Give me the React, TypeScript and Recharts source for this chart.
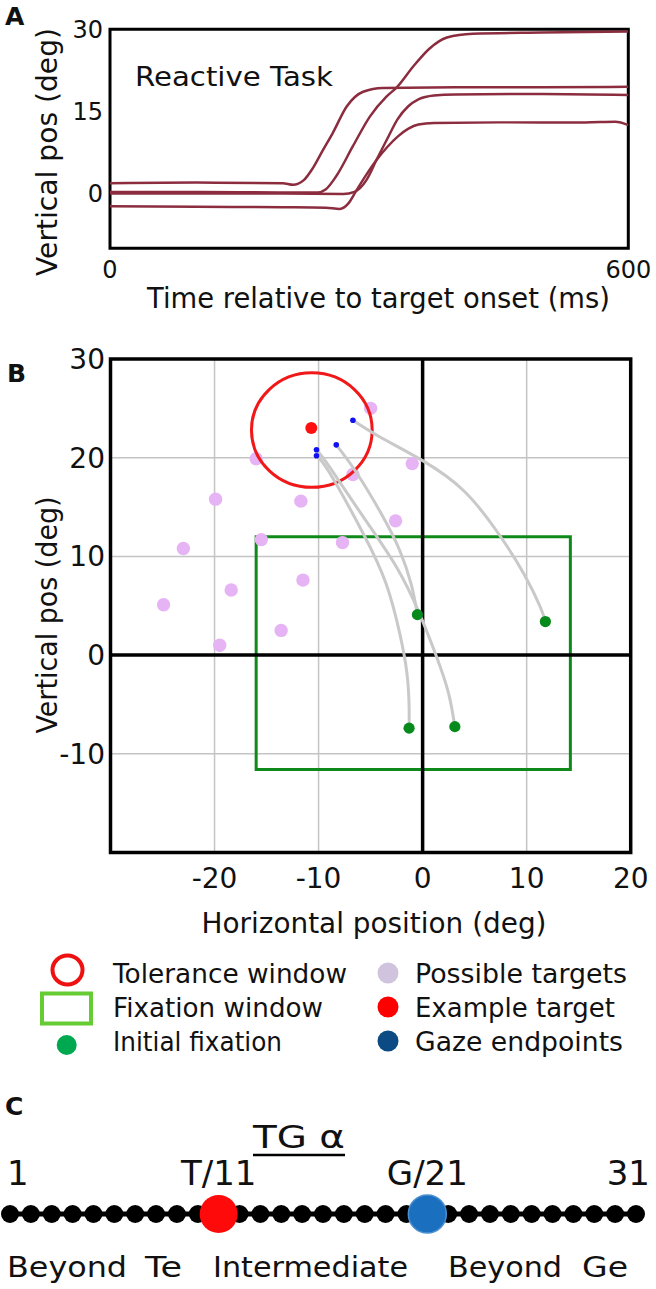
import {
  CartesianGrid,
  ComposedChart,
  Line,
  ReferenceArea,
  ReferenceDot,
  ReferenceLine,
  Scatter,
  XAxis,
  YAxis,
} from 'recharts';

const FONT = '"DejaVu Sans", sans-serif';
const INK = '#111';

// ---- panel A: vertical eye position vs time (ms, deg) ----
const traceA: [number, number][] = [
  [0, 1.9], [100, 2.0], [200, 1.9], [212, 1.6], [224, 2.4], [235, 4.7], [246, 7.8],
  [258, 11.1], [274, 15.9], [293, 18.6], [316, 19.3], [400, 19.4], [500, 19.4], [600, 19.5],
];
const traceB: [number, number][] = [
  [0, 0.3], [100, 0.3], [200, 0.2], [240, 0.2], [250, 0.8], [262, 3.2], [281, 8.6],
  [301, 14.1], [320, 17.7], [332, 19.4], [351, 23.2], [370, 26.5], [390, 28.5],
  [420, 29.2], [500, 29.4], [600, 29.6],
];
const traceC: [number, number][] = [
  [0, 0], [100, 0], [200, 0], [270, -0.1], [283, 0.3], [297, 2.5], [309, 6.3], [321, 10],
  [333, 13.6], [345, 15.9], [357, 17.2], [375, 17.9], [400, 18.1], [500, 18.2], [600, 18.0],
];
const traceD: [number, number][] = [
  [0, -2.3], [100, -2.4], [200, -2.5], [250, -2.6], [266, -2.8], [276, -1.8], [285, 0.5],
  [297, 3.5], [309, 6.2], [321, 8.5], [333, 10.4], [345, 11.8], [357, 12.6], [375, 12.9],
  [450, 13.0], [550, 13.0], [585, 13.1], [600, 12.5],
];
const traces = [traceA, traceB, traceC, traceD];

// ---- panel B: target layout (deg) ----
const possibleTargets: [number, number][] = [
  [-5.0, 25.0], [-16.0, 19.9], [-1.0, 19.4], [-6.7, 18.3], [-19.9, 15.8], [-11.7, 15.6],
  [-2.6, 13.6], [-23.0, 10.8], [-15.5, 11.7], [-7.7, 11.4], [-11.5, 7.6], [-18.4, 6.6],
  [-24.9, 5.1], [-13.6, 2.5], [-19.5, 1.0],
];
const exampleTarget: [number, number][] = [[-10.7, 23.0]];
const toleranceCenter: [number, number] = [-10.65, 22.8];
const toleranceRadius = 5.8;
const fixationWindowX: [number, number] = [-16.0, 14.2];
const fixationWindowY: [number, number] = [-11.6, 12.0];
const initialFixations: [number, number][] = [[-0.5, 4.1], [11.8, 3.4], [-1.3, -7.4], [3.1, -7.25]];
const gazeEndpoints: [number, number][] = [[-6.7, 23.8], [-8.3, 21.3], [-10.2, 20.8], [-10.2, 20.2]];
const trajectories: [number, number][][] = [
  [[-6.7, 23.8], [-4.1, 22.1], [0, 19.7], [3.9, 16.7], [7.1, 12.6], [9.7, 8.3], [11.3, 4.9], [11.8, 3.4]],
  [[-8.3, 21.3], [-6.3, 18.4], [-3.8, 14.0], [-2.2, 10.6], [-1.1, 7.2], [-0.5, 4.1]],
  [[-10.2, 20.8], [-8.9, 19.0], [-5.7, 14.0], [-2.5, 8.9], [-0.3, 4.2], [1.35, -0.2], [2.5, -3.9], [3.1, -7.25]],
  [[-10.2, 20.2], [-8.9, 18.4], [-5.7, 12.3], [-3.5, 7.2], [-2.2, 2.2], [-1.5, -1.9], [-1.3, -5.2], [-1.3, -7.4]],
];

// ---- panel C: target/goal positions on the 31-slot line ----
const slots = [1, 2, 3, 4, 5, 6, 7, 8, 9, 10, 11, 12, 13, 14, 15, 16, 17, 18, 19, 20, 21, 22, 23, 24, 25, 26, 27, 28, 29, 30, 31];
const targetSlot = 11;
const goalSlot = 21;
const slotTicks = [1, 11, 21, 31];
const slotTickLabels = ['1', 'T/11', 'G/21', '31'];

const ptsTV = (arr: [number, number][]) => arr.map(([t, v]) => ({ t, v }));
const ptsXY = (arr: [number, number][]) => arr.map(([x, y]) => ({ x, y }));

// panel B plot box size, used to turn the tolerance radius (deg) into px
const B_PLOT_W = 656 - 40.5 - 70 - 25.3;
const B_PLOT_H = 570 - 19 - 17.5 - 40;

const dot = (r: number, fill: string) => (p: any) => <circle cx={p.cx} cy={p.cy} r={r} fill={fill} />;
const noShape = () => <g />;

function PanelA() {
  return (
    <ComposedChart width={656} height={330} margin={{ top: 29.3, right: 27.7, bottom: 41.7, left: 50 }}>
      <XAxis
        type="number"
        dataKey="t"
        domain={[0, 600]}
        ticks={[0, 600]}
        height={40}
        axisLine={false}
        tickLine={false}
        tickSize={11}
        tickMargin={2}
        allowDataOverflow
        tick={{ fontSize: 24, fill: INK, fontFamily: FONT }}
      />
      <YAxis
        type="number"
        domain={[-10, 30]}
        ticks={[0, 15, 30]}
        width={60}
        axisLine={false}
        tickLine={false}
        tickSize={5}
        tickMargin={2}
        allowDataOverflow
        tick={{ fontSize: 24, fill: INK, fontFamily: FONT }}
      />
      {traces.map((tr, i) => (
        <Line
          key={i}
          data={ptsTV(tr)}
          dataKey="v"
          type="monotone"
          stroke="#8b2d3f"
          strokeWidth={2.5}
          dot={false}
          isAnimationActive={false}
        />
      ))}
      <ReferenceArea x1={0} x2={600} y1={-10} y2={30} fill="none" stroke="#000" strokeWidth={3} />
    </ComposedChart>
  );
}

function PanelB() {
  const rx = toleranceRadius * (B_PLOT_W / 50);
  const ry = toleranceRadius * (B_PLOT_H / 50);
  return (
    <ComposedChart width={656} height={570} margin={{ top: 19, right: 25.3, bottom: 17.5, left: 40.5 }}>
      <CartesianGrid stroke="#c4c4c4" strokeWidth={1.5} />
      <XAxis
        type="number"
        dataKey="x"
        domain={[-30, 20]}
        ticks={[-20, -10, 0, 10, 20]}
        height={40}
        axisLine={false}
        tickLine={false}
        tickSize={13}
        tickMargin={2.5}
        allowDataOverflow
        tick={{ fontSize: 28, fill: INK, fontFamily: FONT }}
      />
      <YAxis
        type="number"
        dataKey="y"
        domain={[-20, 30]}
        ticks={[-10, 0, 10, 20, 30]}
        width={70}
        axisLine={false}
        tickLine={false}
        tickSize={3.5}
        tickMargin={2}
        allowDataOverflow
        tick={{ fontSize: 28, fill: INK, fontFamily: FONT }}
      />
      <Scatter data={ptsXY(possibleTargets)} shape={dot(6.7, '#e6b3f5')} isAnimationActive={false} />
      <ReferenceLine x={0} stroke="#000" strokeWidth={3.5} />
      <ReferenceLine y={0} stroke="#000" strokeWidth={3.5} />
      <ReferenceArea
        x1={fixationWindowX[0]}
        x2={fixationWindowX[1]}
        y1={fixationWindowY[0]}
        y2={fixationWindowY[1]}
        fill="none"
        stroke="#0f8a1a"
        strokeWidth={3}
      />
      <ReferenceDot
        x={toleranceCenter[0]}
        y={toleranceCenter[1]}
        r={1}
        shape={(p: any) => (
          <ellipse cx={p.cx} cy={p.cy} rx={rx} ry={ry} fill="none" stroke="#f01818" strokeWidth={3} />
        )}
      />
      {trajectories.map((tr, i) => (
        <Scatter
          key={i}
          data={ptsXY(tr)}
          line={{ stroke: '#c9c9c9', strokeWidth: 3 }}
          lineJointType="natural"
          shape={noShape}
          isAnimationActive={false}
        />
      ))}
      <Scatter data={ptsXY(initialFixations)} shape={dot(5.6, '#078a1c')} isAnimationActive={false} />
      <Scatter data={ptsXY(exampleTarget)} shape={dot(6, '#ff1010')} isAnimationActive={false} />
      <Scatter data={ptsXY(gazeEndpoints)} shape={dot(2.8, '#1010f0')} isAnimationActive={false} />
      <ReferenceArea x1={-30} x2={20} y1={-20} y2={30} fill="none" stroke="#000" strokeWidth={3.5} />
    </ComposedChart>
  );
}

// end labels hug the ends of the line instead of centring on the first/last slot
function SlotTick(p: any) {
  const i = slotTicks.indexOf(p.payload.value);
  const last = slotTicks.length - 1;
  const anchor = i === 0 ? 'start' : i === last ? 'end' : 'middle';
  const dx = i === 0 ? -3 : i === last ? 14 : 0;
  return (
    <text x={p.x + dx} y={p.y} textAnchor={anchor} fontSize={34} fill={INK} fontFamily={FONT}>
      {slotTickLabels[i]}
    </text>
  );
}

function PanelC() {
  const chain = slots.map((pos) => ({ pos, y: 0 }));
  return (
    <ComposedChart width={656} height={100} margin={{ top: 0, right: 20, bottom: 12, left: 10 }}>
      <XAxis
        type="number"
        dataKey="pos"
        orientation="top"
        domain={[1, 31]}
        ticks={slotTicks}
        height={40}
        axisLine={false}
        tickLine={false}
        tickSize={3}
        tickMargin={2}
        tick={SlotTick}
      />
      <YAxis hide type="number" dataKey="y" domain={[-1, 1]} />
      <Line
        data={chain}
        dataKey="y"
        stroke="#000"
        strokeWidth={5}
        dot={{ r: 9, fill: '#000', stroke: 'none' }}
        isAnimationActive={false}
      />
      <Scatter data={[{ pos: targetSlot, y: 0 }]} shape={dot(19, '#ff0a0a')} isAnimationActive={false} />
      <Scatter
        data={[{ pos: goalSlot, y: 0 }]}
        shape={(p: any) => <circle cx={p.cx} cy={p.cy} r={19} fill="#1b6fbf" stroke="#4a90d0" strokeWidth={1.5} />}
        isAnimationActive={false}
      />
    </ComposedChart>
  );
}

const legendLeft = [
  { label: 'Tolerance window', len: 234 },
  { label: 'Fixation window', len: 210 },
  { label: 'Initial fixation', len: 169 },
];
const legendRight = [
  { label: 'Possible targets', len: 212, color: '#cfc3de' },
  { label: 'Example target', len: 200, color: '#ff0000' },
  { label: 'Gaze endpoints', len: 208, color: '#0b4a82' },
];
const legendRows = [983, 1017, 1051];

function Overlay() {
  const t = { fontFamily: FONT, fill: INK } as const;
  return (
    <svg width={656} height={1289} style={{ position: 'absolute', left: 0, top: 0, pointerEvents: 'none' }}>
      <text x={5} y={25} fontSize={25} fontWeight="bold" {...t}>A</text>
      <text x={7} y={382} fontSize={25} fontWeight="bold" {...t}>B</text>
      <text x={5} y={1115} fontSize={25} fontWeight="bold" {...t}>C</text>

      <text x={135} y={86} fontSize={26} textLength={198} lengthAdjust="spacingAndGlyphs" {...t}>Reactive Task</text>
      <text x={378.5} y={308} fontSize={29} textAnchor="middle" textLength={463} lengthAdjust="spacingAndGlyphs" {...t}>
        Time relative to target onset (ms)
      </text>
      <text transform="translate(57,152) rotate(-90)" fontSize={28} textAnchor="middle" textLength={248} lengthAdjust="spacingAndGlyphs" {...t}>
        Vertical pos (deg)
      </text>

      <text transform="translate(57,615) rotate(-90)" fontSize={28} textAnchor="middle" textLength={237} lengthAdjust="spacingAndGlyphs" {...t}>
        Vertical pos (deg)
      </text>
      <text x={374} y={933} fontSize={28} textAnchor="middle" textLength={345} lengthAdjust="spacingAndGlyphs" {...t}>
        Horizontal position (deg)
      </text>

      <ellipse cx={67.5} cy={970} rx={15} ry={14.5} fill="none" stroke="#ee1111" strokeWidth={4} />
      <rect x={42} y={993.5} width={49} height={30} fill="none" stroke="#66cc33" strokeWidth={4} />
      <circle cx={66.7} cy={1045} r={10} fill="#00a84f" />
      {legendLeft.map((d, i) => (
        <text key={d.label} x={113} y={legendRows[i]} fontSize={26} textLength={d.len} lengthAdjust="spacingAndGlyphs" {...t}>
          {d.label}
        </text>
      ))}
      {legendRight.map((d, i) => (
        <g key={d.label}>
          <circle cx={388} cy={legendRows[i] - 10} r={10.5} fill={d.color} />
          <text x={415} y={legendRows[i]} fontSize={26} textLength={d.len} lengthAdjust="spacingAndGlyphs" {...t}>
            {d.label}
          </text>
        </g>
      ))}

      <text x={299} y={1148} fontSize={32} textAnchor="middle" textLength={92} lengthAdjust="spacingAndGlyphs" {...t}>TG α</text>
      <line x1={253} x2={345} y1={1155} y2={1155} stroke="#000" strokeWidth={2.5} />
      <text y={1277} fontSize={28} {...t}>
        <tspan x={7} textLength={120} lengthAdjust="spacingAndGlyphs">Beyond</tspan>
        <tspan x={145} textLength={37} lengthAdjust="spacingAndGlyphs">Te</tspan>
      </text>
      <text x={213} y={1277} fontSize={28} textLength={195} lengthAdjust="spacingAndGlyphs" {...t}>Intermediate</text>
      <text y={1277} fontSize={28} {...t}>
        <tspan x={448} textLength={114} lengthAdjust="spacingAndGlyphs">Beyond</tspan>
        <tspan x={582} textLength={46} lengthAdjust="spacingAndGlyphs">Ge</tspan>
      </text>
    </svg>
  );
}

export default function App() {
  return (
    <div style={{ position: 'absolute', left: 0, top: 0, width: 656, height: 1289, background: '#fff', fontFamily: FONT }}>
      <div style={{ position: 'absolute', left: 0, top: 0 }}>
        <PanelA />
      </div>
      <div style={{ position: 'absolute', left: 0, top: 340 }}>
        <PanelB />
      </div>
      <div style={{ position: 'absolute', left: 0, top: 1150 }}>
        <PanelC />
      </div>
      <Overlay />
    </div>
  );
}
